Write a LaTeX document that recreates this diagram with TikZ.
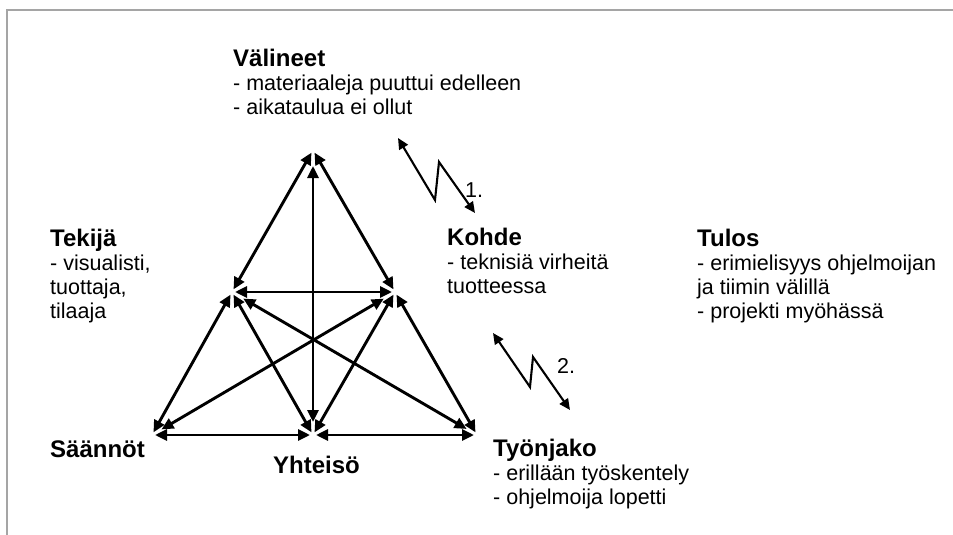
\documentclass[tikz,border=0pt]{standalone}
\usepackage{fontspec}
\setmainfont{Liberation Sans}
\usetikzlibrary{arrows.meta}

\newcommand{\headline}[1]{{\fontsize{24}{24}\selectfont\bfseries #1}}

\begin{document}
\begin{tikzpicture}[x=1pt,y=-1pt,
  % multi-line labels sit on the baseline of their last line
  txt/.style={anchor=base west, inner sep=0pt, align=left,
    font=\fontsize{21.5}{24}\selectfont},
  link/.style={line width=2.9pt,
    {Triangle[length=12pt,width=11pt]}-{Triangle[length=12pt,width=11pt]},
    shorten <=3pt, shorten >=3pt},
  bolt/.style={line width=2.1pt, line join=miter,
    {Triangle[length=11pt,width=10pt]}-{Triangle[length=11pt,width=10pt]}},
  frameline/.style={draw={rgb,255:red,165;green,165;blue,165}, line width=1.6pt}
]
\useasboundingbox (0,0) rectangle (953,535);

% page frame (top and left edges)
\draw[frameline] (953,10) -- (7,10) -- (7,535);

% corners of the activity triangle
\coordinate (T)  at (313,150);
\coordinate (ML) at (232,292);
\coordinate (MR) at (395,292);
\coordinate (BL) at (152,435);
\coordinate (BM) at (313,435);
\coordinate (BR) at (477,435);

% connections between the six elements
\draw[link] (T) -- (ML);
\draw[link] (T) -- (MR);
\draw[link, shorten <=16pt, shorten >=13pt] (T) -- (BM);
\draw[link] (ML) -- (MR);
\draw[link] (ML) -- (BL);
\draw[link] (ML) -- (BM);
\draw[link] (MR) -- (BM);
\draw[link] (MR) -- (BR);
\draw[link] (BL) -- (BM);
\draw[link] (BM) -- (BR);
\draw[link, shorten <=11pt, shorten >=13pt] (BL) -- (MR);
\draw[link, shorten <=13pt, shorten >=12pt] (ML) -- (BR);

% element labels
\node[txt] (valineet) at (233,114) {\headline{Välineet}\\- materiaaleja puuttui edelleen\\- aikataulua ei ollut};
\node[txt] (tekija) at (50,318) {\headline{Tekijä}\\- visualisti,\\tuottaja,\\tilaaja};
\node[txt] (kohde) at (447,293) {\headline{Kohde}\\- teknisiä virheitä\\tuotteessa};
\node[txt] (tulos) at (697,318) {\headline{Tulos}\\- erimielisyys ohjelmoijan\\ja tiimin välillä\\- projekti myöhässä};
\node[txt] (saannot) at (50,457) {\headline{Säännöt}};
\node[txt] (yhteiso) at (273,473) {\headline{Yhteisö}};
\node[txt] (tyonjako) at (493,504) {\headline{Työnjako}\\- erillään työskentely\\- ohjelmoija lopetti};

% contradiction markers
\coordinate (c1a) at (398,138);
\coordinate (c1b) at (435,200);
\coordinate (c1c) at (439,162);
\coordinate (c1d) at (475,213);
\draw[bolt] (c1a) -- (c1b) -- (c1c) -- (c1d);
\node[txt] (n1) at (465,197) {1.};

\coordinate (c2a) at (493,333);
\coordinate (c2b) at (530,387);
\coordinate (c2c) at (533,357);
\coordinate (c2d) at (570,410);
\draw[bolt] (c2a) -- (c2b) -- (c2c) -- (c2d);
\node[txt] (n2) at (557,373) {2.};
\end{tikzpicture}
\end{document}
